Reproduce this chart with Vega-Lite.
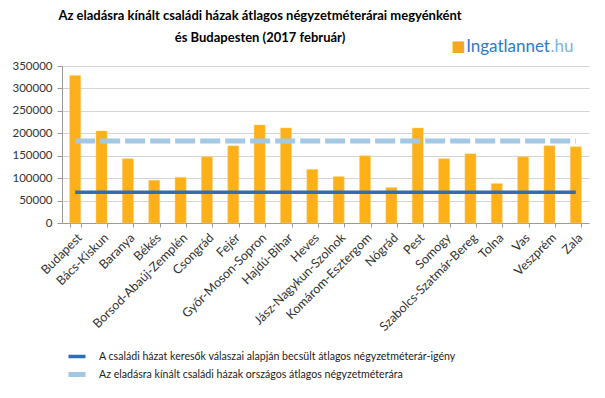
{
  "$schema": "https://vega.github.io/schema/vega-lite/v6.json",
  "width": 527,
  "height": 157,
  "autosize": {"type": "none"},
  "padding": {"left": 62, "top": 66, "right": 16, "bottom": 175},
  "background": "white",
  "title": {
    "text": ["Az eladásra kínált családi házak átlagos négyzetméterárai megyénként", "és Budapesten (2017 február)"],
    "anchor": "start",
    "frame": "group",
    "align": "center",
    "dx": 198,
    "offset": -7,
    "font": "Lato",
    "fontSize": 13,
    "fontWeight": "bold",
    "lineHeight": 22,
    "color": "#000000"
  },
  "config": {
    "view": {"stroke": null},
    "font": "Lato"
  },
  "data": {
    "values": [
      {"megye": "Budapest", "ar": 329000, "A családi házat keresők válaszai alapján becsült átlagos négyzetméterár-igény": 68700, "Az eladásra kínált családi házak országos átlagos négyzetméterára": 183000},
      {"megye": "Bács-Kiskun", "ar": 205300, "A családi házat keresők válaszai alapján becsült átlagos négyzetméterár-igény": 68700, "Az eladásra kínált családi házak országos átlagos négyzetméterára": 183000},
      {"megye": "Baranya", "ar": 143300, "A családi házat keresők válaszai alapján becsült átlagos négyzetméterár-igény": 68700, "Az eladásra kínált családi házak országos átlagos négyzetméterára": 183000},
      {"megye": "Békés", "ar": 95300, "A családi házat keresők válaszai alapján becsült átlagos négyzetméterár-igény": 68700, "Az eladásra kínált családi házak országos átlagos négyzetméterára": 183000},
      {"megye": "Borsod-Abaúj-Zemplén", "ar": 101900, "A családi házat keresők válaszai alapján becsült átlagos négyzetméterár-igény": 68700, "Az eladásra kínált családi házak országos átlagos négyzetméterára": 183000},
      {"megye": "Csongrád", "ar": 147700, "A családi házat keresők válaszai alapján becsült átlagos négyzetméterár-igény": 68700, "Az eladásra kínált családi házak országos átlagos négyzetméterára": 183000},
      {"megye": "Fejér", "ar": 172000, "A családi házat keresők válaszai alapján becsült átlagos négyzetméterár-igény": 68700, "Az eladásra kínált családi házak országos átlagos négyzetméterára": 183000},
      {"megye": "Győr-Moson-Sopron", "ar": 218600, "A családi házat keresők válaszai alapján becsült átlagos négyzetméterár-igény": 68700, "Az eladásra kínált családi házak országos átlagos négyzetméterára": 183000},
      {"megye": "Hajdú-Bihar", "ar": 211900, "A családi házat keresők válaszai alapján becsült átlagos négyzetméterár-igény": 68700, "Az eladásra kínált családi házak országos átlagos négyzetméterára": 183000},
      {"megye": "Heves", "ar": 119600, "A családi házat keresők válaszai alapján becsült átlagos négyzetméterár-igény": 68700, "Az eladásra kínált családi házak országos átlagos négyzetméterára": 183000},
      {"megye": "Jász-Nagykun-Szolnok", "ar": 103400, "A családi házat keresők válaszai alapján becsült átlagos négyzetméterár-igény": 68700, "Az eladásra kínált családi házak országos átlagos négyzetméterára": 183000},
      {"megye": "Komárom-Esztergom", "ar": 149900, "A családi házat keresők válaszai alapján becsült átlagos négyzetméterár-igény": 68700, "Az eladásra kínált családi házak országos átlagos négyzetméterára": 183000},
      {"megye": "Nógrád", "ar": 79000, "A családi házat keresők válaszai alapján becsült átlagos négyzetméterár-igény": 68700, "Az eladásra kínált családi házak országos átlagos négyzetméterára": 183000},
      {"megye": "Pest", "ar": 211900, "A családi házat keresők válaszai alapján becsült átlagos négyzetméterár-igény": 68700, "Az eladásra kínált családi házak országos átlagos négyzetméterára": 183000},
      {"megye": "Somogy", "ar": 143300, "A családi házat keresők válaszai alapján becsült átlagos négyzetméterár-igény": 68700, "Az eladásra kínált családi házak országos átlagos négyzetméterára": 183000},
      {"megye": "Szabolcs-Szatmár-Bereg", "ar": 154300, "A családi házat keresők válaszai alapján becsült átlagos négyzetméterár-igény": 68700, "Az eladásra kínált családi házak országos átlagos négyzetméterára": 183000},
      {"megye": "Tolna", "ar": 87900, "A családi házat keresők válaszai alapján becsült átlagos négyzetméterár-igény": 68700, "Az eladásra kínált családi házak országos átlagos négyzetméterára": 183000},
      {"megye": "Vas", "ar": 147700, "A családi házat keresők válaszai alapján becsült átlagos négyzetméterár-igény": 68700, "Az eladásra kínált családi házak országos átlagos négyzetméterára": 183000},
      {"megye": "Veszprém", "ar": 172000, "A családi házat keresők válaszai alapján becsült átlagos négyzetméterár-igény": 68700, "Az eladásra kínált családi házak országos átlagos négyzetméterára": 183000},
      {"megye": "Zala", "ar": 169800, "A családi házat keresők válaszai alapján becsült átlagos négyzetméterár-igény": 68700, "Az eladásra kínált családi házak országos átlagos négyzetméterára": 183000}
    ]
  },
  "encoding": {
    "x": {
      "field": "megye",
      "type": "nominal",
      "sort": null,
      "scale": {"paddingInner": 0.58, "paddingOuter": 0.29},
      "axis": {
        "title": null,
        "labelAngle": -45,
        "labelFont": "Lato",
        "labelFontSize": 12.5,
        "labelColor": "#333333",
        "domainColor": "#9a9a9a",
        "tickColor": "#9a9a9a",
        "tickSize": 4,
        "tickBand": "extent",
        "labelPadding": 4
      }
    },
    "y": {
      "field": "ar",
      "type": "quantitative",
      "scale": {"domain": [0, 350000], "nice": false},
      "axis": {
        "title": null,
        "values": [0, 50000, 100000, 150000, 200000, 250000, 300000, 350000],
        "format": "d",
        "labelOverlap": false,
        "labelFont": "Lato",
        "labelFontSize": 11.5,
        "labelColor": "#333333",
        "gridColor": "#d4d4d4",
        "domainColor": "#9a9a9a",
        "tickColor": "#9a9a9a",
        "tickSize": 5,
        "labelPadding": 5
      }
    }
  },
  "layer": [
    {
      "mark": {"type": "bar", "color": "#FDB017", "stroke": "#FDD27A", "strokeWidth": 0.5}
    },
    {
      "transform": [
        {"fold": ["A családi házat keresők válaszai alapján becsült átlagos négyzetméterár-igény", "Az eladásra kínált családi házak országos átlagos négyzetméterára"], "as": ["sorozat", "ertek"]}
      ],
      "mark": {"type": "line"},
      "encoding": {
        "y": {"field": "ertek", "type": "quantitative"},
        "color": {
          "field": "sorozat",
          "type": "nominal",
          "scale": {"range": ["#2F6DB5", "#A3C8E3"]},
          "legend": {
            "title": null,
            "orient": "none",
            "legendX": 6.5,
            "legendY": 284,
            "direction": "vertical",
            "symbolType": "M-1.9,0H1.9",
            "symbolSize": 100,
            "symbolStrokeWidth": 4,
            "labelFont": "Lato",
            "labelFontSize": 10.6,
            "labelColor": "#222222",
            "labelLimit": 500,
            "clipHeight": 13,
            "rowPadding": 5,
            "labelOffset": 15.5
          }
        },
        "strokeDash": {
          "field": "sorozat",
          "type": "nominal",
          "scale": {"range": [[1, 0], [20, 5]]}
        },
        "strokeWidth": {
          "field": "sorozat",
          "type": "nominal",
          "scale": {"range": [3.5, 5]},
          "legend": null
        }
      }
    },
    {
      "transform": [{"filter": "datum.megye === 'Budapest'"}],
      "mark": {"type": "text", "align": "right", "baseline": "alphabetic", "font": "Lato", "fontSize": 17, "color": "#2F7BC4", "dx": 0.5},
      "encoding": {
        "x": {"datum": "Veszprém"},
        "y": {"datum": 381200},
        "text": {"value": "Ingatlannet"}
      }
    },
    {
      "transform": [{"filter": "datum.megye === 'Budapest'"}],
      "mark": {"type": "text", "align": "left", "baseline": "alphabetic", "font": "Lato", "fontSize": 17, "color": "#7DB3E3", "dx": 1},
      "encoding": {
        "x": {"datum": "Veszprém"},
        "y": {"datum": 381200},
        "text": {"value": ".hu"}
      }
    },
    {
      "transform": [{"filter": "datum.megye === 'Budapest'"}],
      "mark": {"type": "text", "align": "center", "baseline": "alphabetic", "font": "DejaVu Sans", "fontSize": 15, "color": "#F5A623", "dx": -12},
      "encoding": {
        "x": {"datum": "Szabolcs-Szatmár-Bereg"},
        "y": {"datum": 383000},
        "text": {"value": "■"}
      }
    }
  ]
}
